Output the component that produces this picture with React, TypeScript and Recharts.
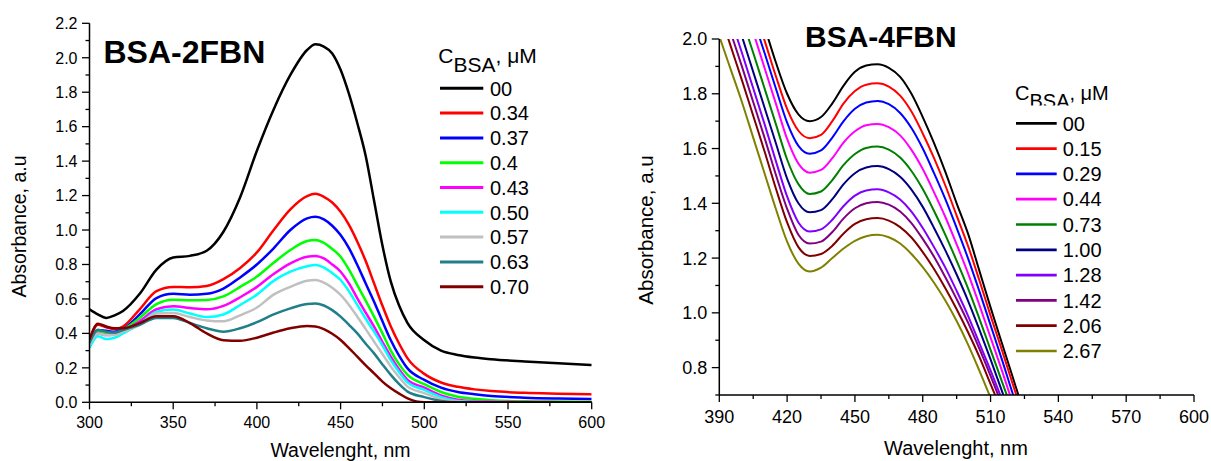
import { LineChart, Line, XAxis, YAxis } from 'recharts';

const FONT = '"Liberation Sans", Arial, sans-serif';

// ---- left panel: BSA-2FBN ----
const leftWl = [300, 305, 310, 315, 320, 330, 340, 350, 360, 370, 380, 390, 400, 410, 420, 430, 435, 440, 445, 450, 455, 460, 465, 470, 475, 480, 485, 490, 500, 510, 520, 530, 540, 560, 580, 600];

const left00 = [0.54, 0.51, 0.49, 0.505, 0.53, 0.63, 0.77, 0.84, 0.85, 0.88, 0.99, 1.19, 1.46, 1.7, 1.9, 2.045, 2.078, 2.065, 2.025, 1.93, 1.79, 1.62, 1.43, 1.17, 0.91, 0.7, 0.56, 0.46, 0.36, 0.3, 0.275, 0.26, 0.25, 0.237, 0.226, 0.216];
const left034 = [0.36, 0.45, 0.435, 0.425, 0.44, 0.54, 0.645, 0.67, 0.668, 0.675, 0.715, 0.78, 0.87, 1.0, 1.12, 1.197, 1.21, 1.193, 1.16, 1.106, 1.03, 0.932, 0.82, 0.69, 0.56, 0.44, 0.34, 0.255, 0.165, 0.115, 0.09, 0.075, 0.065, 0.055, 0.05, 0.046];
const left037 = [0.335, 0.42, 0.415, 0.41, 0.425, 0.51, 0.605, 0.63, 0.625, 0.63, 0.66, 0.725, 0.8, 0.894, 1.0, 1.068, 1.077, 1.062, 1.025, 0.971, 0.895, 0.797, 0.69, 0.584, 0.47, 0.36, 0.27, 0.197, 0.13, 0.085, 0.06, 0.047, 0.037, 0.027, 0.022, 0.019];
const left040 = [0.33, 0.41, 0.4, 0.4, 0.42, 0.49, 0.57, 0.596, 0.592, 0.594, 0.615, 0.67, 0.73, 0.81, 0.884, 0.936, 0.942, 0.926, 0.89, 0.845, 0.77, 0.68, 0.59, 0.497, 0.4, 0.3, 0.22, 0.159, 0.105, 0.06, 0.032, 0.02, 0.012, 0.006, 0.004, 0.003];
const left043 = [0.325, 0.4, 0.39, 0.395, 0.415, 0.47, 0.54, 0.557, 0.547, 0.54, 0.56, 0.61, 0.67, 0.745, 0.807, 0.845, 0.849, 0.835, 0.8, 0.758, 0.69, 0.603, 0.52, 0.439, 0.35, 0.265, 0.19, 0.13, 0.085, 0.04, 0.015, 0.007, 0.004, 0.002, 0.001, 0];
const left050 = [0.315, 0.383, 0.367, 0.375, 0.4, 0.455, 0.525, 0.538, 0.515, 0.495, 0.51, 0.565, 0.625, 0.705, 0.758, 0.79, 0.797, 0.782, 0.75, 0.71, 0.645, 0.565, 0.485, 0.41, 0.33, 0.245, 0.175, 0.116, 0.072, 0.03, 0.008, 0.003, 0.002, 0, 0, 0];
const left057 = [0.33, 0.4, 0.39, 0.39, 0.41, 0.45, 0.515, 0.518, 0.495, 0.475, 0.47, 0.505, 0.55, 0.625, 0.67, 0.706, 0.71, 0.695, 0.665, 0.623, 0.565, 0.497, 0.425, 0.352, 0.28, 0.207, 0.145, 0.091, 0.053, 0.018, 0.003, 0, 0, 0, 0, 0];
const left063 = [0.344, 0.42, 0.41, 0.405, 0.42, 0.45, 0.49, 0.49, 0.46, 0.43, 0.41, 0.43, 0.465, 0.51, 0.545, 0.57, 0.574, 0.562, 0.535, 0.497, 0.45, 0.4, 0.34, 0.284, 0.22, 0.159, 0.105, 0.062, 0.03, 0.008, 0, 0, 0, 0, 0, 0];
const left070 = [0.364, 0.456, 0.44, 0.43, 0.43, 0.46, 0.5, 0.5, 0.46, 0.4, 0.36, 0.357, 0.375, 0.405, 0.43, 0.443, 0.44, 0.425, 0.398, 0.362, 0.315, 0.265, 0.215, 0.168, 0.12, 0.081, 0.05, 0.023, 0, 0, 0, 0, 0, 0, 0, 0];

const leftSeries = [
  { name: '00', color: '#000000', values: left00 },
  { name: '0.34', color: '#ff0000', values: left034 },
  { name: '0.37', color: '#0000ff', values: left037 },
  { name: '0.4', color: '#00ff00', values: left040 },
  { name: '0.43', color: '#ff00ff', values: left043 },
  { name: '0.50', color: '#00ffff', values: left050 },
  { name: '0.57', color: '#c0c0c0', values: left057 },
  { name: '0.63', color: '#217f8a', values: left063 },
  { name: '0.70', color: '#800000', values: left070 },
];

const leftXTicks = [300, 325, 350, 375, 400, 425, 450, 475, 500, 525, 550, 575, 600];
const leftYTicks = [0, 0.1, 0.2, 0.3, 0.4, 0.5, 0.6, 0.7, 0.8, 0.9, 1.0, 1.1, 1.2, 1.3, 1.4, 1.5, 1.6, 1.7, 1.8, 1.9, 2.0, 2.1, 2.2];

// ---- right panel: BSA-4FBN ----
const rightWl = [390, 395, 400, 405, 410, 415, 420, 425, 430, 435, 440, 445, 450, 455, 460, 465, 470, 475, 480, 485, 490, 495, 500, 505, 510, 515, 520, 525, 530];

const right00 = [2.55, 2.42, 2.3, 2.17, 2.045, 1.915, 1.8, 1.725, 1.7, 1.715, 1.765, 1.83, 1.88, 1.903, 1.908, 1.895, 1.862, 1.8, 1.715, 1.62, 1.515, 1.4, 1.29, 1.155, 1.02, 0.89, 0.76, 0.63, 0.5];
const right015 = [2.5, 2.38, 2.25, 2.12, 1.995, 1.865, 1.745, 1.665, 1.638, 1.65, 1.7, 1.765, 1.81, 1.833, 1.838, 1.826, 1.793, 1.735, 1.655, 1.565, 1.465, 1.355, 1.245, 1.12, 0.99, 0.865, 0.735, 0.61, 0.49];
const right029 = [2.45, 2.33, 2.2, 2.075, 1.95, 1.82, 1.695, 1.61, 1.581, 1.593, 1.64, 1.7, 1.745, 1.768, 1.774, 1.762, 1.73, 1.675, 1.6, 1.51, 1.415, 1.31, 1.2, 1.08, 0.955, 0.83, 0.7, 0.58, 0.46];
const right044 = [2.4, 2.28, 2.15, 2.025, 1.895, 1.765, 1.635, 1.545, 1.512, 1.522, 1.565, 1.622, 1.663, 1.685, 1.69, 1.678, 1.648, 1.595, 1.525, 1.44, 1.35, 1.25, 1.145, 1.03, 0.91, 0.79, 0.665, 0.55, 0.43];
const right073 = [2.33, 2.2, 2.075, 1.95, 1.82, 1.69, 1.56, 1.47, 1.434, 1.443, 1.485, 1.54, 1.58, 1.602, 1.607, 1.596, 1.567, 1.518, 1.452, 1.372, 1.285, 1.19, 1.09, 0.98, 0.865, 0.75, 0.635, 0.52, 0.41];
const right100 = [2.26, 2.135, 2.01, 1.88, 1.75, 1.62, 1.49, 1.4, 1.367, 1.375, 1.415, 1.47, 1.51, 1.531, 1.536, 1.525, 1.497, 1.45, 1.387, 1.31, 1.228, 1.14, 1.045, 0.94, 0.83, 0.715, 0.6, 0.49, 0.38];
const right128 = [2.2, 2.075, 1.95, 1.82, 1.69, 1.555, 1.425, 1.33, 1.297, 1.305, 1.34, 1.39, 1.428, 1.447, 1.451, 1.44, 1.414, 1.37, 1.31, 1.24, 1.165, 1.08, 0.99, 0.89, 0.79, 0.685, 0.575, 0.47, 0.36];
const right142 = [2.15, 2.025, 1.9, 1.77, 1.64, 1.505, 1.38, 1.285, 1.253, 1.26, 1.295, 1.345, 1.382, 1.4, 1.405, 1.395, 1.37, 1.328, 1.27, 1.205, 1.13, 1.05, 0.965, 0.87, 0.77, 0.665, 0.56, 0.455, 0.35];
const right206 = [2.1, 1.975, 1.85, 1.72, 1.59, 1.455, 1.33, 1.24, 1.208, 1.215, 1.245, 1.29, 1.325, 1.342, 1.346, 1.337, 1.313, 1.275, 1.222, 1.16, 1.09, 1.013, 0.93, 0.84, 0.74, 0.64, 0.535, 0.43, 0.33];
const right267 = [2.01, 1.89, 1.77, 1.64, 1.51, 1.38, 1.26, 1.18, 1.151, 1.165, 1.2, 1.235, 1.263, 1.28, 1.285, 1.276, 1.253, 1.215, 1.167, 1.11, 1.045, 0.97, 0.885, 0.79, 0.69, 0.59, 0.49, 0.39, 0.29];

const rightSeries = [
  { name: '00', color: '#000000', values: right00 },
  { name: '0.15', color: '#ff0000', values: right015 },
  { name: '0.29', color: '#0000ff', values: right029 },
  { name: '0.44', color: '#ff00ff', values: right044 },
  { name: '0.73', color: '#008000', values: right073 },
  { name: '1.00', color: '#000080', values: right100 },
  { name: '1.28', color: '#8000ff', values: right128 },
  { name: '1.42', color: '#800080', values: right142 },
  { name: '2.06', color: '#800000', values: right206 },
  { name: '2.67', color: '#808000', values: right267 },
];

const rightXTicks = [390, 405, 420, 435, 450, 465, 480, 495, 510, 525, 540, 555, 570, 585, 600];
const rightYTicks = [0.7, 0.8, 0.9, 1.0, 1.1, 1.2, 1.3, 1.4, 1.5, 1.6, 1.7, 1.8, 1.9, 2.0];

function buildRows(wl: number[], series: { values: number[] }[]) {
  return wl.map((w, i) => {
    const row: Record<string, number> = { wl: w };
    series.forEach((s, k) => { row['s' + k] = s.values[i]; });
    return row;
  });
}

const leftData = buildRows(leftWl, leftSeries);
const rightData = buildRows(rightWl, rightSeries);

// minor ticks every 0.1, labels on even tenths only
const makeYTick = (fontSize: number) => (props: any) => {
  const { x, y, payload } = props;
  const v = payload.value as number;
  const major = Math.round(v * 10) % 2 === 0;
  return (
    <g>
      <line x1={x} x2={x - (major ? 7.5 : 4)} y1={y} y2={y} stroke="#000" strokeWidth={1.3} />
      {major && (
        <text x={x - 12} y={y} dy="0.36em" textAnchor="end" fontSize={fontSize} fontFamily={FONT} fill="#000">
          {v.toFixed(1)}
        </text>
      )}
    </g>
  );
};

const makeXTick = (fontSize: number, step: number, start: number, labelDy: number) => (props: any) => {
  const { x, y, payload } = props;
  const v = payload.value as number;
  const major = (v - start) % step === 0;
  return (
    <g>
      <line x1={x} x2={x} y1={y} y2={y + (major ? 7 : 4)} stroke="#000" strokeWidth={1.3} />
      {major && (
        <text x={x} y={y + labelDy} textAnchor="middle" fontSize={fontSize} fontFamily={FONT} fill="#000">
          {v}
        </text>
      )}
    </g>
  );
};

export default function App() {
  return (
    <div style={{ position: 'absolute', left: 0, top: 0, width: 1211, height: 461, background: '#fff', overflow: 'hidden' }}>
      <div style={{ position: 'absolute', left: 0, top: 0 }}>
        <LineChart width={620} height={461} data={leftData} margin={{ top: 23.3, right: 28.3, bottom: 28.7, left: 0 }}>
          <XAxis
            type="number"
            dataKey="wl"
            domain={[300, 600]}
            ticks={leftXTicks}
            interval={0}
            allowDataOverflow
            height={30}
            tickSize={0}
            tickMargin={0}
            tickLine={false}
            axisLine={{ stroke: '#000', strokeWidth: 1.5 }}
            tick={makeXTick(16, 50, 300, 26)}
          />
          <YAxis
            type="number"
            domain={[0, 2.2]}
            ticks={leftYTicks}
            interval={0}
            allowDataOverflow
            width={89.5}
            tickSize={0}
            tickMargin={0}
            tickLine={false}
            axisLine={{ stroke: '#000', strokeWidth: 1.5 }}
            tick={makeYTick(16)}
          />
          {leftSeries.map((s, k) => (
            <Line key={s.name} type="monotone" dataKey={'s' + k} stroke={s.color} strokeWidth={2.5} dot={false} isAnimationActive={false} />
          ))}
        </LineChart>
      </div>

      <div style={{ position: 'absolute', left: 630, top: 0 }}>
        <LineChart width={581} height={461} data={rightData} margin={{ top: 39, right: 17, bottom: 36, left: 0 }}>
          <XAxis
            type="number"
            dataKey="wl"
            domain={[390, 600]}
            ticks={rightXTicks}
            interval={0}
            allowDataOverflow
            height={30}
            tickSize={0}
            tickMargin={0}
            tickLine={false}
            axisLine={{ stroke: '#000', strokeWidth: 1.5 }}
            tick={makeXTick(18, 30, 390, 28)}
          />
          <YAxis
            type="number"
            domain={[0.7, 2.0]}
            ticks={rightYTicks}
            interval={0}
            allowDataOverflow
            width={89.3}
            tickSize={0}
            tickMargin={0}
            tickLine={false}
            axisLine={{ stroke: '#000', strokeWidth: 1.5 }}
            tick={makeYTick(18)}
          />
          {rightSeries.map((s, k) => (
            <Line key={s.name} type="monotone" dataKey={'s' + k} stroke={s.color} strokeWidth={2} dot={false} isAnimationActive={false} />
          ))}
        </LineChart>
      </div>

      {/* titles, axis names and legends */}
      <svg width={1211} height={461} style={{ position: 'absolute', left: 0, top: 0, pointerEvents: 'none' }} fontFamily={FONT}>
        <text x={103.5} y={63.3} fontSize={32} fontWeight="bold">BSA-2FBN</text>
        <text x={805} y={47} fontSize={30} fontWeight="bold">BSA-4FBN</text>

        <text transform="translate(26,226.5) rotate(-90)" textAnchor="middle" fontSize={19.5}>Absorbance, a.u</text>
        <text transform="translate(653,230) rotate(-90)" textAnchor="middle" fontSize={20.5}>Absorbance, a.u</text>
        <text x={340.5} y={456.5} textAnchor="middle" fontSize={19.5}>Wavelenght, nm</text>
        <text x={956} y={455} textAnchor="middle" fontSize={20}>Wavelenght, nm</text>

        {/* left legend */}
        <text x={438.3} y={63.3} fontSize={21}>
          C<tspan dy={8.4}>BSA</tspan><tspan dy={-8.4}>, μM</tspan>
        </text>
        {leftSeries.map((s, i) => {
          const y = 88.3 + 24.8 * i;
          return (
            <g key={s.name}>
              <line x1={440} x2={483.3} y1={y} y2={y} stroke={s.color} strokeWidth={3} />
              <text x={490} y={y + 7.2} fontSize={20}>{s.name}</text>
            </g>
          );
        })}

        {/* right legend */}
        <defs>
          <clipPath id="rtitle">
            <rect x={1000} y={70} width={160} height={35.5} />
          </clipPath>
        </defs>
        <text x={1015} y={100} fontSize={20} clipPath="url(#rtitle)">
          C<tspan dy={8}>BSA</tspan><tspan dy={-8}>, μM</tspan>
        </text>
        {rightSeries.map((s, i) => {
          const y = 123.3 + 25.3 * i;
          return (
            <g key={s.name}>
              <line x1={1016} x2={1056.7} y1={y} y2={y} stroke={s.color} strokeWidth={2.7} />
              <text x={1062.7} y={y + 7.2} fontSize={20}>{s.name}</text>
            </g>
          );
        })}
      </svg>
    </div>
  );
}
